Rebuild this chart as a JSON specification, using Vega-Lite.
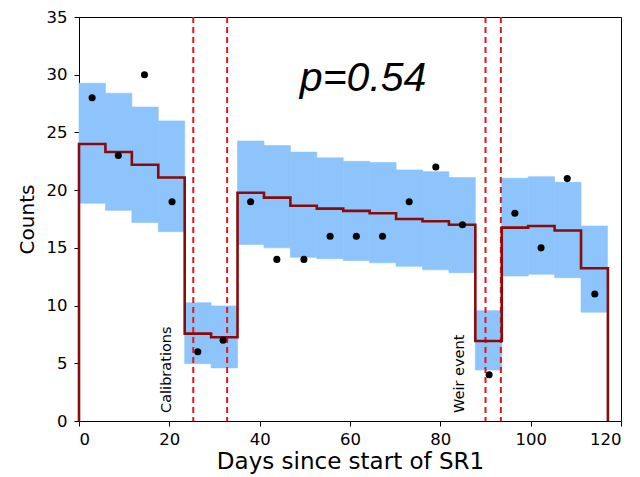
{
  "$schema": "https://vega.github.io/schema/vega-lite/v6.json",
  "width": 542,
  "height": 404,
  "autosize": {"type": "none"},
  "padding": {"left": 79, "top": 17, "right": 19, "bottom": 56},
  "background": "white",
  "config": {
    "view": {"stroke": "black", "strokeWidth": 1},
    "font": "DejaVu Sans",
    "axis": {
      "grid": false,
      "domainColor": "black",
      "tickColor": "black",
      "tickSize": 5,
      "labelColor": "black",
      "titleColor": "black",
      "labelFont": "DejaVu Sans",
      "titleFont": "DejaVu Sans",
      "labelFontSize": 16.5,
      "titleFontWeight": "normal"
    },
    "axisX": {"tickCount": 6, "labelPadding": 5, "titlePadding": 3, "titleFontSize": 23},
    "axisY": {"tickCount": 7, "labelPadding": 7, "titlePadding": 9, "titleFontSize": 20}
  },
  "datasets": {
    "bins": [
      {"start": 0, "end": 5.85, "lo": 18.86, "hi": 29.26, "xc": 2.9, "obs": 28},
      {"start": 5.85, "end": 11.7, "lo": 18.25, "hi": 28.4, "xc": 8.7, "obs": 23},
      {"start": 11.7, "end": 17.55, "lo": 17.2, "hi": 27.2, "xc": 14.5, "obs": 30},
      {"start": 17.55, "end": 23.4, "lo": 16.4, "hi": 26.0, "xc": 20.6, "obs": 19},
      {"start": 23.4, "end": 29.25, "lo": 4.97, "hi": 10.25, "xc": 26.3, "obs": 6},
      {"start": 29.25, "end": 35.1, "lo": 4.6, "hi": 9.97, "xc": 31.9, "obs": 7},
      {"start": 35.1, "end": 40.95, "lo": 15.3, "hi": 24.26, "xc": 38.0, "obs": 19},
      {"start": 40.95, "end": 46.8, "lo": 15.0, "hi": 23.86, "xc": 43.8, "obs": 14},
      {"start": 46.8, "end": 52.65, "lo": 14.18, "hi": 23.3, "xc": 49.8, "obs": 14},
      {"start": 52.65, "end": 58.5, "lo": 14.05, "hi": 22.8, "xc": 55.6, "obs": 16},
      {"start": 58.5, "end": 64.35, "lo": 13.9, "hi": 22.5, "xc": 61.4, "obs": 16},
      {"start": 64.35, "end": 70.2, "lo": 13.7, "hi": 22.4, "xc": 67.2, "obs": 16},
      {"start": 70.2, "end": 76.05, "lo": 13.4, "hi": 21.75, "xc": 73.1, "obs": 19},
      {"start": 76.05, "end": 81.9, "lo": 13.1, "hi": 21.6, "xc": 79.0, "obs": 22},
      {"start": 81.9, "end": 87.75, "lo": 12.85, "hi": 21.1, "xc": 84.9, "obs": 17},
      {"start": 87.75, "end": 93.6, "lo": 4.42, "hi": 9.56, "xc": 90.8, "obs": 4},
      {"start": 93.6, "end": 99.45, "lo": 12.56, "hi": 21.03, "xc": 96.5, "obs": 18},
      {"start": 99.45, "end": 105.3, "lo": 12.71, "hi": 21.17, "xc": 102.3, "obs": 15},
      {"start": 105.3, "end": 111.15, "lo": 12.42, "hi": 20.68, "xc": 108.1, "obs": 21},
      {"start": 111.15, "end": 117.0, "lo": 9.42, "hi": 16.9, "xc": 114.2, "obs": 11}
    ],
    "model": [
      {"i": 0, "day": 0, "mu": 0},
      {"i": 1, "day": 0, "mu": 24.0},
      {"i": 2, "day": 5.85, "mu": 23.3},
      {"i": 3, "day": 11.7, "mu": 22.2},
      {"i": 4, "day": 17.55, "mu": 21.1},
      {"i": 5, "day": 23.4, "mu": 7.57},
      {"i": 6, "day": 29.25, "mu": 7.25},
      {"i": 7, "day": 35.1, "mu": 19.78},
      {"i": 8, "day": 40.95, "mu": 19.35},
      {"i": 9, "day": 46.8, "mu": 18.65},
      {"i": 10, "day": 52.65, "mu": 18.4},
      {"i": 11, "day": 58.5, "mu": 18.2},
      {"i": 12, "day": 64.35, "mu": 18.0},
      {"i": 13, "day": 70.2, "mu": 17.5},
      {"i": 14, "day": 76.05, "mu": 17.3},
      {"i": 15, "day": 81.9, "mu": 17.0},
      {"i": 16, "day": 87.75, "mu": 6.93},
      {"i": 17, "day": 93.6, "mu": 16.75},
      {"i": 18, "day": 99.45, "mu": 16.9},
      {"i": 19, "day": 105.3, "mu": 16.5},
      {"i": 20, "day": 111.15, "mu": 13.23},
      {"i": 21, "day": 117.1, "mu": 13.23},
      {"i": 22, "day": 117.1, "mu": 0}
    ],
    "cuts": [
      {"day": 25.3},
      {"day": 32.8},
      {"day": 90.0},
      {"day": 93.4}
    ],
    "labels": [
      {"day": 19.5, "y": 0.7, "label": "Calibrations"},
      {"day": 84.3, "y": 0.7, "label": "Weir event"}
    ],
    "pval": [
      {"day": 62.9, "y": 28.6, "label": "p=0.54"}
    ]
  },
  "layer": [
    {
      "data": {"name": "bins"},
      "mark": {"type": "rect", "color": "#8cc4fb", "stroke": "#8cc4fb", "strokeWidth": 0.6},
      "encoding": {
        "x": {"field": "start", "type": "quantitative", "scale": {"domain": [0, 120], "nice": false}, "title": "Days since start of SR1"},
        "x2": {"field": "end"},
        "y": {"field": "lo", "type": "quantitative", "scale": {"domain": [0, 35], "nice": false}, "title": "Counts"},
        "y2": {"field": "hi"}
      }
    },
    {
      "data": {"name": "cuts"},
      "mark": {"type": "rule", "color": "#e3161c", "strokeWidth": 2, "strokeDash": [6, 4]},
      "encoding": {
        "x": {"field": "day", "type": "quantitative", "title": "Days since start of SR1"}
      }
    },
    {
      "data": {"name": "model"},
      "mark": {"type": "line", "color": "#8b0a0a", "strokeWidth": 2.6, "interpolate": "step-after"},
      "encoding": {
        "x": {"field": "day", "type": "quantitative", "title": "Days since start of SR1"},
        "y": {"field": "mu", "type": "quantitative", "title": "Counts"},
        "order": {"field": "i", "type": "quantitative"}
      }
    },
    {
      "data": {"name": "bins"},
      "mark": {"type": "point", "filled": true, "color": "black", "size": 50, "opacity": 1},
      "encoding": {
        "x": {"field": "xc", "type": "quantitative", "title": "Days since start of SR1"},
        "y": {"field": "obs", "type": "quantitative", "title": "Counts"}
      }
    },
    {
      "data": {"name": "labels"},
      "mark": {"type": "text", "angle": 270, "align": "left", "baseline": "middle", "font": "DejaVu Sans", "fontSize": 14.5, "color": "black"},
      "encoding": {
        "x": {"field": "day", "type": "quantitative", "title": "Days since start of SR1"},
        "y": {"field": "y", "type": "quantitative", "title": "Counts"},
        "text": {"field": "label"}
      }
    },
    {
      "data": {"name": "pval"},
      "mark": {"type": "text", "align": "center", "baseline": "alphabetic", "font": "Liberation Sans", "fontStyle": "italic", "fontSize": 41, "color": "black"},
      "encoding": {
        "x": {"field": "day", "type": "quantitative", "title": "Days since start of SR1"},
        "y": {"field": "y", "type": "quantitative", "title": "Counts"},
        "text": {"field": "label"}
      }
    }
  ]
}
